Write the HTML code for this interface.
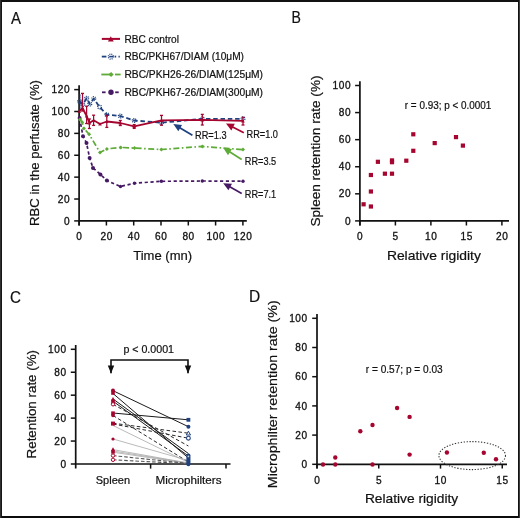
<!DOCTYPE html>
<html><head><meta charset="utf-8"><title>Figure</title>
<style>
html,body{margin:0;padding:0;background:#fff;}
body{width:520px;height:518px;overflow:hidden;}
svg{will-change:transform;display:block;font-family:"Liberation Sans", sans-serif;}
text{stroke:#111;stroke-width:0.2px;}
text.n{stroke-width:0.3px;}
</style></head><body>
<svg width="520" height="518" viewBox="0 0 520 518" fill="#111">
<rect x="0" y="0" width="520" height="518" fill="#fff"/>
<text x="11" y="23.6" font-size="16.6" textLength="10" lengthAdjust="spacingAndGlyphs">A</text>
<line x1="79.1" y1="85.2" x2="79.1" y2="225.5" stroke="#111" stroke-width="1.7" stroke-linecap="butt"/>
<line x1="78.25" y1="220.9" x2="246.8" y2="220.9" stroke="#111" stroke-width="1.7" stroke-linecap="butt"/>
<line x1="74.2" y1="220.9" x2="79.1" y2="220.9" stroke="#111" stroke-width="1.5" stroke-linecap="butt"/>
<text x="69.6" y="224.5" font-size="10.1" text-anchor="end" class="n">0</text>
<line x1="74.2" y1="199.02" x2="79.1" y2="199.02" stroke="#111" stroke-width="1.5" stroke-linecap="butt"/>
<text x="69.6" y="202.62" font-size="10.1" text-anchor="end" textLength="11.83" lengthAdjust="spacing" class="n">20</text>
<line x1="74.2" y1="177.14" x2="79.1" y2="177.14" stroke="#111" stroke-width="1.5" stroke-linecap="butt"/>
<text x="69.6" y="180.74" font-size="10.1" text-anchor="end" textLength="11.83" lengthAdjust="spacing" class="n">40</text>
<line x1="74.2" y1="155.26" x2="79.1" y2="155.26" stroke="#111" stroke-width="1.5" stroke-linecap="butt"/>
<text x="69.6" y="158.86" font-size="10.1" text-anchor="end" textLength="11.83" lengthAdjust="spacing" class="n">60</text>
<line x1="74.2" y1="133.38" x2="79.1" y2="133.38" stroke="#111" stroke-width="1.5" stroke-linecap="butt"/>
<text x="69.6" y="136.98" font-size="10.1" text-anchor="end" textLength="11.83" lengthAdjust="spacing" class="n">80</text>
<line x1="74.2" y1="111.5" x2="79.1" y2="111.5" stroke="#111" stroke-width="1.5" stroke-linecap="butt"/>
<text x="69.6" y="115.1" font-size="10.1" text-anchor="end" textLength="18.05" lengthAdjust="spacing" class="n">100</text>
<line x1="74.2" y1="89.62" x2="79.1" y2="89.62" stroke="#111" stroke-width="1.5" stroke-linecap="butt"/>
<text x="69.6" y="93.22" font-size="10.1" text-anchor="end" textLength="18.05" lengthAdjust="spacing" class="n">120</text>
<line x1="79.1" y1="220.9" x2="79.1" y2="225.5" stroke="#111" stroke-width="1.5" stroke-linecap="butt"/>
<text x="79.1" y="240.2" font-size="10.1" text-anchor="middle" class="n">0</text>
<line x1="106.4" y1="220.9" x2="106.4" y2="225.5" stroke="#111" stroke-width="1.5" stroke-linecap="butt"/>
<text x="106.4" y="240.2" font-size="10.1" text-anchor="middle" textLength="11.83" lengthAdjust="spacing" class="n">20</text>
<line x1="133.7" y1="220.9" x2="133.7" y2="225.5" stroke="#111" stroke-width="1.5" stroke-linecap="butt"/>
<text x="133.7" y="240.2" font-size="10.1" text-anchor="middle" textLength="11.83" lengthAdjust="spacing" class="n">40</text>
<line x1="161" y1="220.9" x2="161" y2="225.5" stroke="#111" stroke-width="1.5" stroke-linecap="butt"/>
<text x="161" y="240.2" font-size="10.1" text-anchor="middle" textLength="11.83" lengthAdjust="spacing" class="n">60</text>
<line x1="188.3" y1="220.9" x2="188.3" y2="225.5" stroke="#111" stroke-width="1.5" stroke-linecap="butt"/>
<text x="188.3" y="240.2" font-size="10.1" text-anchor="middle" textLength="11.83" lengthAdjust="spacing" class="n">80</text>
<line x1="215.6" y1="220.9" x2="215.6" y2="225.5" stroke="#111" stroke-width="1.5" stroke-linecap="butt"/>
<text x="215.6" y="240.2" font-size="10.1" text-anchor="middle" textLength="18.05" lengthAdjust="spacing" class="n">100</text>
<line x1="242.9" y1="220.9" x2="242.9" y2="225.5" stroke="#111" stroke-width="1.5" stroke-linecap="butt"/>
<text x="242.9" y="240.2" font-size="10.1" text-anchor="middle" textLength="18.05" lengthAdjust="spacing" class="n">120</text>
<text x="162.7" y="260" font-size="13" text-anchor="middle" textLength="59" lengthAdjust="spacingAndGlyphs">Time (mn)</text>
<text x="39.2" y="153" font-size="13" text-anchor="middle" textLength="146" lengthAdjust="spacingAndGlyphs" transform="rotate(-90 39.2 153)">RBC in the perfusate (%)</text>
<text x="124.4" y="42.7" font-size="10.1" textLength="54.6" lengthAdjust="spacingAndGlyphs">RBC control</text>
<text x="124.4" y="60.4" font-size="10.1" textLength="119.6" lengthAdjust="spacingAndGlyphs">RBC/PKH67/DIAM (10&#956;M)</text>
<text x="124.4" y="78.3" font-size="10.1" textLength="138.6" lengthAdjust="spacingAndGlyphs">RBC/PKH26-26/DIAM(125&#956;M)</text>
<text x="124.4" y="96.1" font-size="10.1" textLength="138.6" lengthAdjust="spacingAndGlyphs">RBC/PKH67-26/DIAM(300&#956;M)</text>
<line x1="101.8" y1="38.9" x2="120" y2="38.9" stroke="#a5052f" stroke-width="2" stroke-linecap="butt"/>
<path d="M110.8 36.27L113.7 41.49L107.9 41.49Z" fill="#a5052f"/>
<line x1="101.8" y1="56.6" x2="106.4" y2="56.6" stroke="#1f417f" stroke-width="1.8" stroke-linecap="butt"/>
<line x1="114.6" y1="56.6" x2="116.2" y2="56.6" stroke="#1f417f" stroke-width="1.8" stroke-linecap="butt"/>
<line x1="118.5" y1="56.6" x2="119.8" y2="56.6" stroke="#1f417f" stroke-width="1.8" stroke-linecap="butt"/>
<circle cx="110.8" cy="56.6" r="2.5" fill="none" stroke="#1f417f" stroke-width="1.3" stroke-dasharray="1.0 1.0"/>
<line x1="109.2" y1="56.6" x2="113" y2="56.6" stroke="#1f417f" stroke-width="1.6" stroke-linecap="butt"/>
<line x1="101.3" y1="74.5" x2="112" y2="74.5" stroke="#5eab37" stroke-width="1.8" stroke-linecap="butt"/>
<line x1="115" y1="74.5" x2="120.6" y2="74.5" stroke="#5eab37" stroke-width="1.8" stroke-linecap="butt"/>
<path d="M111.1 71.9L113.7 74.5L111.1 77.1L108.5 74.5Z" fill="#5eab37"/>
<line x1="102" y1="92.3" x2="105.6" y2="92.3" stroke="#451963" stroke-width="1.8" stroke-linecap="butt"/>
<line x1="115.2" y1="92.3" x2="118.7" y2="92.3" stroke="#451963" stroke-width="1.8" stroke-linecap="butt"/>
<circle cx="111" cy="92.3" r="2.7" fill="#451963"/>
<polyline points="79.6,118 83,136.2 86.5,142.9 89.6,157.9 93,167.9 100.4,174.4 106.9,180.6 120.5,186.5 134.5,183.2 161.3,181.3 202.3,181 243,181.2" fill="none" stroke="#451963" stroke-width="1.7" stroke-dasharray="3.2 2.6" stroke-linejoin="round"/>
<circle cx="79.6" cy="118" r="2" fill="#451963"/>
<circle cx="83" cy="136.2" r="2" fill="#451963"/>
<circle cx="86.5" cy="142.9" r="2" fill="#451963"/>
<circle cx="89.6" cy="157.9" r="2" fill="#451963"/>
<circle cx="93" cy="167.9" r="2" fill="#451963"/>
<circle cx="100.4" cy="174.4" r="2" fill="#451963"/>
<circle cx="106.9" cy="180.6" r="2" fill="#451963"/>
<circle cx="120.5" cy="186.5" r="1.7" fill="#451963"/>
<circle cx="134.5" cy="183.2" r="1.7" fill="#451963"/>
<circle cx="161.3" cy="181.3" r="1.7" fill="#451963"/>
<circle cx="202.3" cy="181" r="1.7" fill="#451963"/>
<circle cx="243" cy="181.2" r="1.7" fill="#451963"/>
<polyline points="80,119.5 82.2,122.3 83.9,128.5 89.1,134.2 100,152.5 106.9,148.9 120.8,147.4 134.5,148.1 161.3,149.5 202.4,146.4 243,149.6" fill="none" stroke="#5eab37" stroke-width="1.7" stroke-dasharray="6 2.5 1.6 2.5" stroke-linejoin="round"/>
<path d="M80 117.5L82 119.5L80 121.5L78 119.5Z" fill="#5eab37"/>
<path d="M82.2 120.3L84.2 122.3L82.2 124.3L80.2 122.3Z" fill="#5eab37"/>
<path d="M83.9 126.5L85.9 128.5L83.9 130.5L81.9 128.5Z" fill="#5eab37"/>
<path d="M89.1 132.2L91.1 134.2L89.1 136.2L87.1 134.2Z" fill="#5eab37"/>
<path d="M100 150.5L102 152.5L100 154.5L98 152.5Z" fill="#5eab37"/>
<path d="M106.9 146.9L108.9 148.9L106.9 150.9L104.9 148.9Z" fill="#5eab37"/>
<path d="M120.8 145.4L122.8 147.4L120.8 149.4L118.8 147.4Z" fill="#5eab37"/>
<path d="M134.5 146.1L136.5 148.1L134.5 150.1L132.5 148.1Z" fill="#5eab37"/>
<path d="M161.3 147.5L163.3 149.5L161.3 151.5L159.3 149.5Z" fill="#5eab37"/>
<path d="M202.4 144.4L204.4 146.4L202.4 148.4L200.4 146.4Z" fill="#5eab37"/>
<path d="M243 147.6L245 149.6L243 151.6L241 149.6Z" fill="#5eab37"/>
<polyline points="79.6,101.5 82.8,104.5 86.7,98.2 89.8,104 93.8,98.6 99.6,107 106.8,114.7 120.3,116 134.2,120.5 161.5,122.7 202.3,118.8 243,118.8" fill="none" stroke="#1f417f" stroke-width="1.8" stroke-dasharray="4.5 2.8" stroke-linejoin="round"/>
<circle cx="79.6" cy="101.5" r="1.9" fill="none" stroke="#1f417f" stroke-width="1.3" stroke-dasharray="1 0.8"/>
<circle cx="82.8" cy="104.5" r="1.9" fill="none" stroke="#1f417f" stroke-width="1.3" stroke-dasharray="1 0.8"/>
<circle cx="86.7" cy="98.2" r="1.9" fill="none" stroke="#1f417f" stroke-width="1.3" stroke-dasharray="1 0.8"/>
<circle cx="89.8" cy="104" r="1.9" fill="none" stroke="#1f417f" stroke-width="1.3" stroke-dasharray="1 0.8"/>
<circle cx="93.8" cy="98.6" r="1.9" fill="none" stroke="#1f417f" stroke-width="1.3" stroke-dasharray="1 0.8"/>
<circle cx="99.6" cy="107" r="1.9" fill="none" stroke="#1f417f" stroke-width="1.3" stroke-dasharray="1 0.8"/>
<circle cx="106.8" cy="114.7" r="1.9" fill="none" stroke="#1f417f" stroke-width="1.3" stroke-dasharray="1 0.8"/>
<circle cx="120.3" cy="116" r="1.9" fill="none" stroke="#1f417f" stroke-width="1.3" stroke-dasharray="1 0.8"/>
<circle cx="134.2" cy="120.5" r="1.9" fill="none" stroke="#1f417f" stroke-width="1.3" stroke-dasharray="1 0.8"/>
<circle cx="161.5" cy="122.7" r="1.9" fill="none" stroke="#1f417f" stroke-width="1.3" stroke-dasharray="1 0.8"/>
<circle cx="202.3" cy="118.8" r="1.9" fill="none" stroke="#1f417f" stroke-width="1.3" stroke-dasharray="1 0.8"/>
<circle cx="243" cy="118.8" r="1.9" fill="none" stroke="#1f417f" stroke-width="1.3" stroke-dasharray="1 0.8"/>
<line x1="80" y1="94.5" x2="80" y2="109.8" stroke="#1f417f" stroke-width="1.3" stroke-dasharray="1.2 0.8" stroke-linecap="butt"/>
<polyline points="79.4,111.2 82.5,108 86.6,116 89.4,123 93.6,120.3 100,124 106.8,121.5 120.3,123 134.2,126.4 161.5,120.3 202.3,119.8 243,120.8" fill="none" stroke="#a5052f" stroke-width="1.8" stroke-linejoin="round"/>
<line x1="82.5" y1="93.4" x2="82.5" y2="111" stroke="#a5052f" stroke-width="1.25" stroke-linecap="butt"/>
<line x1="81" y1="93.4" x2="84" y2="93.4" stroke="#a5052f" stroke-width="1.3" stroke-linecap="butt"/>
<line x1="81" y1="111" x2="84" y2="111" stroke="#a5052f" stroke-width="1.3" stroke-linecap="butt"/>
<line x1="86.6" y1="106.2" x2="86.6" y2="123.5" stroke="#a5052f" stroke-width="1.25" stroke-linecap="butt"/>
<line x1="85.1" y1="106.2" x2="88.1" y2="106.2" stroke="#a5052f" stroke-width="1.3" stroke-linecap="butt"/>
<line x1="85.1" y1="123.5" x2="88.1" y2="123.5" stroke="#a5052f" stroke-width="1.3" stroke-linecap="butt"/>
<line x1="89.4" y1="119" x2="89.4" y2="128.5" stroke="#a5052f" stroke-width="1.25" stroke-linecap="butt"/>
<line x1="87.9" y1="119" x2="90.9" y2="119" stroke="#a5052f" stroke-width="1.3" stroke-linecap="butt"/>
<line x1="87.9" y1="128.5" x2="90.9" y2="128.5" stroke="#a5052f" stroke-width="1.3" stroke-linecap="butt"/>
<line x1="93.6" y1="115.2" x2="93.6" y2="125.4" stroke="#a5052f" stroke-width="1.25" stroke-linecap="butt"/>
<line x1="92.1" y1="115.2" x2="95.1" y2="115.2" stroke="#a5052f" stroke-width="1.3" stroke-linecap="butt"/>
<line x1="92.1" y1="125.4" x2="95.1" y2="125.4" stroke="#a5052f" stroke-width="1.3" stroke-linecap="butt"/>
<line x1="106.8" y1="115.4" x2="106.8" y2="127.4" stroke="#a5052f" stroke-width="1.25" stroke-linecap="butt"/>
<line x1="105.3" y1="115.4" x2="108.3" y2="115.4" stroke="#a5052f" stroke-width="1.3" stroke-linecap="butt"/>
<line x1="105.3" y1="127.4" x2="108.3" y2="127.4" stroke="#a5052f" stroke-width="1.3" stroke-linecap="butt"/>
<line x1="120.3" y1="120.5" x2="120.3" y2="125.5" stroke="#a5052f" stroke-width="1.25" stroke-linecap="butt"/>
<line x1="118.8" y1="120.5" x2="121.8" y2="120.5" stroke="#a5052f" stroke-width="1.3" stroke-linecap="butt"/>
<line x1="118.8" y1="125.5" x2="121.8" y2="125.5" stroke="#a5052f" stroke-width="1.3" stroke-linecap="butt"/>
<line x1="134.2" y1="124.6" x2="134.2" y2="128.4" stroke="#a5052f" stroke-width="1.25" stroke-linecap="butt"/>
<line x1="132.7" y1="124.6" x2="135.7" y2="124.6" stroke="#a5052f" stroke-width="1.3" stroke-linecap="butt"/>
<line x1="132.7" y1="128.4" x2="135.7" y2="128.4" stroke="#a5052f" stroke-width="1.3" stroke-linecap="butt"/>
<line x1="161.5" y1="115.4" x2="161.5" y2="125.2" stroke="#a5052f" stroke-width="1.25" stroke-linecap="butt"/>
<line x1="160" y1="115.4" x2="163" y2="115.4" stroke="#a5052f" stroke-width="1.3" stroke-linecap="butt"/>
<line x1="160" y1="125.2" x2="163" y2="125.2" stroke="#a5052f" stroke-width="1.3" stroke-linecap="butt"/>
<line x1="202.3" y1="114.4" x2="202.3" y2="125" stroke="#a5052f" stroke-width="1.25" stroke-linecap="butt"/>
<line x1="200.8" y1="114.4" x2="203.8" y2="114.4" stroke="#a5052f" stroke-width="1.3" stroke-linecap="butt"/>
<line x1="200.8" y1="125" x2="203.8" y2="125" stroke="#a5052f" stroke-width="1.3" stroke-linecap="butt"/>
<line x1="243" y1="117.3" x2="243" y2="125" stroke="#a5052f" stroke-width="1.25" stroke-linecap="butt"/>
<line x1="241.5" y1="117.3" x2="244.5" y2="117.3" stroke="#a5052f" stroke-width="1.3" stroke-linecap="butt"/>
<line x1="241.5" y1="125" x2="244.5" y2="125" stroke="#a5052f" stroke-width="1.3" stroke-linecap="butt"/>
<path d="M79.4 109.56L81.2 112.8L77.6 112.8Z" fill="#a5052f"/>
<path d="M82.5 106.36L84.3 109.6L80.7 109.6Z" fill="#a5052f"/>
<path d="M86.6 114.36L88.4 117.6L84.8 117.6Z" fill="#a5052f"/>
<path d="M89.4 121.36L91.2 124.6L87.6 124.6Z" fill="#a5052f"/>
<path d="M93.6 118.66L95.4 121.9L91.8 121.9Z" fill="#a5052f"/>
<path d="M100 122.36L101.8 125.6L98.2 125.6Z" fill="#a5052f"/>
<path d="M106.8 119.86L108.6 123.1L105 123.1Z" fill="#a5052f"/>
<path d="M120.3 121.36L122.1 124.6L118.5 124.6Z" fill="#a5052f"/>
<path d="M134.2 124.76L136 128L132.4 128Z" fill="#a5052f"/>
<path d="M161.5 118.66L163.3 121.9L159.7 121.9Z" fill="#a5052f"/>
<path d="M202.3 118.16L204.1 121.4L200.5 121.4Z" fill="#a5052f"/>
<path d="M243 119.16L244.8 122.4L241.2 122.4Z" fill="#a5052f"/>
<line x1="192.4" y1="135.3" x2="179.32" y2="127.56" stroke="#1f417f" stroke-width="1.7" stroke-linecap="butt"/>
<path d="M173.3 124L182.07 124.89L178.3 131.26Z" fill="#1f417f"/>
<line x1="243.8" y1="132.8" x2="232.19" y2="126.67" stroke="#a5052f" stroke-width="1.7" stroke-linecap="butt"/>
<path d="M226 123.4L234.8 123.86L231.35 130.41Z" fill="#a5052f"/>
<line x1="241.7" y1="159.5" x2="229.12" y2="151.54" stroke="#5eab37" stroke-width="1.7" stroke-linecap="butt"/>
<path d="M223.2 147.8L231.94 148.95L227.98 155.2Z" fill="#5eab37"/>
<line x1="241.7" y1="193.4" x2="229.33" y2="186.58" stroke="#451963" stroke-width="1.7" stroke-linecap="butt"/>
<path d="M223.2 183.2L231.99 183.82L228.42 190.3Z" fill="#451963"/>
<text x="195" y="139.2" font-size="10.6" textLength="31.6" lengthAdjust="spacingAndGlyphs">RR=1.3</text>
<text x="246.5" y="138.1" font-size="10.6" textLength="31.4" lengthAdjust="spacingAndGlyphs">RR=1.0</text>
<text x="244.8" y="165.3" font-size="10.6" textLength="31.4" lengthAdjust="spacingAndGlyphs">RR=3.5</text>
<text x="244.8" y="197.5" font-size="10.6" textLength="31.4" lengthAdjust="spacingAndGlyphs">RR=7.1</text>
<text x="291.6" y="23.3" font-size="16.6" textLength="9.4" lengthAdjust="spacingAndGlyphs">B</text>
<line x1="359.9" y1="81.2" x2="359.9" y2="225.5" stroke="#111" stroke-width="1.7" stroke-linecap="butt"/>
<line x1="359.05" y1="220.9" x2="509" y2="220.9" stroke="#111" stroke-width="1.7" stroke-linecap="butt"/>
<line x1="355.1" y1="220.9" x2="359.9" y2="220.9" stroke="#111" stroke-width="1.5" stroke-linecap="butt"/>
<text x="350.6" y="224.5" font-size="10.1" text-anchor="end" class="n">0</text>
<line x1="355.1" y1="193.82" x2="359.9" y2="193.82" stroke="#111" stroke-width="1.5" stroke-linecap="butt"/>
<text x="350.6" y="197.42" font-size="10.1" text-anchor="end" textLength="11.83" lengthAdjust="spacing" class="n">20</text>
<line x1="355.1" y1="166.74" x2="359.9" y2="166.74" stroke="#111" stroke-width="1.5" stroke-linecap="butt"/>
<text x="350.6" y="170.34" font-size="10.1" text-anchor="end" textLength="11.83" lengthAdjust="spacing" class="n">40</text>
<line x1="355.1" y1="139.66" x2="359.9" y2="139.66" stroke="#111" stroke-width="1.5" stroke-linecap="butt"/>
<text x="350.6" y="143.26" font-size="10.1" text-anchor="end" textLength="11.83" lengthAdjust="spacing" class="n">60</text>
<line x1="355.1" y1="112.58" x2="359.9" y2="112.58" stroke="#111" stroke-width="1.5" stroke-linecap="butt"/>
<text x="350.6" y="116.18" font-size="10.1" text-anchor="end" textLength="11.83" lengthAdjust="spacing" class="n">80</text>
<line x1="355.1" y1="85.5" x2="359.9" y2="85.5" stroke="#111" stroke-width="1.5" stroke-linecap="butt"/>
<text x="350.6" y="89.1" font-size="10.1" text-anchor="end" textLength="18.05" lengthAdjust="spacing" class="n">100</text>
<line x1="359.9" y1="220.9" x2="359.9" y2="225.5" stroke="#111" stroke-width="1.5" stroke-linecap="butt"/>
<text x="359.9" y="240.4" font-size="10.1" text-anchor="middle" class="n">0</text>
<line x1="395.4" y1="220.9" x2="395.4" y2="225.5" stroke="#111" stroke-width="1.5" stroke-linecap="butt"/>
<text x="395.4" y="240.4" font-size="10.1" text-anchor="middle" class="n">5</text>
<line x1="430.9" y1="220.9" x2="430.9" y2="225.5" stroke="#111" stroke-width="1.5" stroke-linecap="butt"/>
<text x="430.9" y="240.4" font-size="10.1" text-anchor="middle" textLength="11.83" lengthAdjust="spacing" class="n">10</text>
<line x1="466.4" y1="220.9" x2="466.4" y2="225.5" stroke="#111" stroke-width="1.5" stroke-linecap="butt"/>
<text x="466.4" y="240.4" font-size="10.1" text-anchor="middle" textLength="11.83" lengthAdjust="spacing" class="n">15</text>
<line x1="501.9" y1="220.9" x2="501.9" y2="225.5" stroke="#111" stroke-width="1.5" stroke-linecap="butt"/>
<text x="501.9" y="240.4" font-size="10.1" text-anchor="middle" textLength="11.83" lengthAdjust="spacing" class="n">20</text>
<text x="433.9" y="260.3" font-size="13" text-anchor="middle" textLength="94" lengthAdjust="spacingAndGlyphs">Relative rigidity</text>
<text x="320" y="151" font-size="13" text-anchor="middle" textLength="151" lengthAdjust="spacingAndGlyphs" transform="rotate(-90 320 151)">Spleen retention rate (%)</text>
<text x="404.8" y="109.2" font-size="10.1" textLength="86.5" lengthAdjust="spacingAndGlyphs">r = 0.93; p &lt; 0.0001</text>
<rect x="361.5" y="202.2" width="4.2" height="4.2" fill="#a5052f"/>
<rect x="368.8" y="204.4" width="4.2" height="4.2" fill="#a5052f"/>
<rect x="368.8" y="189.4" width="4.2" height="4.2" fill="#a5052f"/>
<rect x="368.8" y="172.9" width="4.2" height="4.2" fill="#a5052f"/>
<rect x="375.8" y="159.7" width="4.2" height="4.2" fill="#a5052f"/>
<rect x="382.8" y="171.6" width="4.2" height="4.2" fill="#a5052f"/>
<rect x="389.9" y="171.6" width="4.2" height="4.2" fill="#a5052f"/>
<rect x="389.9" y="158.3" width="4.2" height="4.2" fill="#a5052f"/>
<rect x="389.9" y="160.1" width="4.2" height="4.2" fill="#a5052f"/>
<rect x="404.2" y="158.6" width="4.2" height="4.2" fill="#a5052f"/>
<rect x="411.2" y="148.7" width="4.2" height="4.2" fill="#a5052f"/>
<rect x="411.2" y="132.2" width="4.2" height="4.2" fill="#a5052f"/>
<rect x="432.6" y="141" width="4.2" height="4.2" fill="#a5052f"/>
<rect x="453.9" y="135" width="4.2" height="4.2" fill="#a5052f"/>
<rect x="460.8" y="143.5" width="4.2" height="4.2" fill="#a5052f"/>
<text x="10" y="302.5" font-size="16.6" textLength="11" lengthAdjust="spacingAndGlyphs">C</text>
<line x1="75.7" y1="345" x2="75.7" y2="468.5" stroke="#111" stroke-width="1.7" stroke-linecap="butt"/>
<line x1="74.85" y1="464" x2="230.5" y2="464" stroke="#111" stroke-width="1.7" stroke-linecap="butt"/>
<line x1="70.8" y1="464" x2="75.7" y2="464" stroke="#111" stroke-width="1.5" stroke-linecap="butt"/>
<text x="66" y="467.6" font-size="10.1" text-anchor="end" class="n">0</text>
<line x1="70.8" y1="441.06" x2="75.7" y2="441.06" stroke="#111" stroke-width="1.5" stroke-linecap="butt"/>
<text x="66" y="444.66" font-size="10.1" text-anchor="end" textLength="11.83" lengthAdjust="spacing" class="n">20</text>
<line x1="70.8" y1="418.12" x2="75.7" y2="418.12" stroke="#111" stroke-width="1.5" stroke-linecap="butt"/>
<text x="66" y="421.72" font-size="10.1" text-anchor="end" textLength="11.83" lengthAdjust="spacing" class="n">40</text>
<line x1="70.8" y1="395.18" x2="75.7" y2="395.18" stroke="#111" stroke-width="1.5" stroke-linecap="butt"/>
<text x="66" y="398.78" font-size="10.1" text-anchor="end" textLength="11.83" lengthAdjust="spacing" class="n">60</text>
<line x1="70.8" y1="372.24" x2="75.7" y2="372.24" stroke="#111" stroke-width="1.5" stroke-linecap="butt"/>
<text x="66" y="375.84" font-size="10.1" text-anchor="end" textLength="11.83" lengthAdjust="spacing" class="n">80</text>
<line x1="70.8" y1="349.3" x2="75.7" y2="349.3" stroke="#111" stroke-width="1.5" stroke-linecap="butt"/>
<text x="66" y="352.9" font-size="10.1" text-anchor="end" textLength="18.05" lengthAdjust="spacing" class="n">100</text>
<line x1="150.6" y1="464" x2="150.6" y2="468.6" stroke="#111" stroke-width="1.5" stroke-linecap="butt"/>
<line x1="226" y1="464" x2="226" y2="468.6" stroke="#111" stroke-width="1.5" stroke-linecap="butt"/>
<text x="112.9" y="483.5" font-size="11" text-anchor="middle" textLength="34.3" lengthAdjust="spacingAndGlyphs">Spleen</text>
<text x="188.5" y="483.8" font-size="11" text-anchor="middle" textLength="66.1" lengthAdjust="spacingAndGlyphs">Microphilters</text>
<text x="35.8" y="404.2" font-size="13" text-anchor="middle" textLength="108.5" lengthAdjust="spacingAndGlyphs" transform="rotate(-90 35.8 404.2)">Retention rate (%)</text>
<path d="M111 373.3V360H188V373.3" fill="none" stroke="#111" stroke-width="1.6"/>
<path d="M107.8 365.6L114.2 365.6L111 373.6Z" fill="#111"/>
<path d="M184.8 365.6L191.2 365.6L188 373.6Z" fill="#111"/>
<text x="123.4" y="353.3" font-size="10.6" textLength="50.6" lengthAdjust="spacingAndGlyphs">p &lt; 0.0001</text>
<line x1="113" y1="390.7" x2="188.4" y2="426.7" stroke="#1a1a1a" stroke-width="1" stroke-linecap="butt"/>
<line x1="113" y1="393.5" x2="188.4" y2="458" stroke="#1a1a1a" stroke-width="1" stroke-linecap="butt"/>
<line x1="113" y1="399" x2="188.4" y2="453.5" stroke="#1a1a1a" stroke-width="1" stroke-linecap="butt"/>
<line x1="113" y1="401.2" x2="188.4" y2="456" stroke="#1a1a1a" stroke-width="1" stroke-linecap="butt"/>
<line x1="113" y1="404.3" x2="188.4" y2="446" stroke="#2a2a2a" stroke-width="1" stroke-dasharray="3.6 2.4" stroke-linecap="butt"/>
<line x1="113" y1="413" x2="188.4" y2="419.8" stroke="#1a1a1a" stroke-width="1" stroke-linecap="butt"/>
<line x1="113" y1="415.5" x2="188.4" y2="462" stroke="#2a2a2a" stroke-width="1" stroke-dasharray="3.6 2.4" stroke-linecap="butt"/>
<line x1="113" y1="423.2" x2="188.4" y2="433.2" stroke="#2a2a2a" stroke-width="1" stroke-dasharray="3.6 2.4" stroke-linecap="butt"/>
<line x1="113" y1="424" x2="188.4" y2="438.2" stroke="#2a2a2a" stroke-width="1" stroke-dasharray="3.6 2.4" stroke-linecap="butt"/>
<line x1="113" y1="425.5" x2="188.4" y2="462.5" stroke="#a8a8a8" stroke-width="0.8" stroke-linecap="butt"/>
<line x1="113" y1="439" x2="188.4" y2="460.5" stroke="#a8a8a8" stroke-width="0.8" stroke-linecap="butt"/>
<line x1="113" y1="449.6" x2="188.4" y2="463" stroke="#a8a8a8" stroke-width="0.8" stroke-linecap="butt"/>
<line x1="113" y1="451" x2="188.4" y2="463.2" stroke="#a8a8a8" stroke-width="0.8" stroke-linecap="butt"/>
<line x1="113" y1="452.2" x2="188.4" y2="463.5" stroke="#a8a8a8" stroke-width="0.8" stroke-linecap="butt"/>
<line x1="113" y1="455.6" x2="188.4" y2="463.5" stroke="#555" stroke-width="1.1" stroke-dasharray="3.6 2" stroke-linecap="butt"/>
<line x1="113" y1="459.8" x2="188.4" y2="463.8" stroke="#555" stroke-width="1.1" stroke-dasharray="3.6 2" stroke-linecap="butt"/>
<circle cx="113" cy="390.6" r="2" fill="#a5052f"/>
<rect x="111.2" y="391.2" width="3.6" height="3.6" fill="#a5052f"/>
<path d="M113 397.04L115 400.64L111 400.64Z" fill="#a5052f"/>
<rect x="111.2" y="399.5" width="3.6" height="3.6" fill="#a5052f"/>
<circle cx="113" cy="404.3" r="1.7" fill="white" stroke="#a5052f" stroke-width="1"/>
<rect x="111.2" y="411.4" width="3.6" height="3.6" fill="#a5052f"/>
<circle cx="113" cy="415.4" r="1.8" fill="#a5052f"/>
<rect x="111" y="421.6" width="4" height="4" fill="#a5052f"/>
<circle cx="113" cy="439" r="1.6" fill="#a5052f"/>
<path d="M113 447.24L115 450.84L111 450.84Z" fill="#a5052f"/>
<rect x="111.2" y="450.1" width="3.6" height="3.6" fill="#a5052f"/>
<circle cx="113" cy="455.6" r="1.7" fill="white" stroke="#a5052f" stroke-width="1"/>
<circle cx="113" cy="459.8" r="1.7" fill="white" stroke="#a5052f" stroke-width="1"/>
<rect x="186.5" y="417.9" width="3.8" height="3.8" fill="#1f417f"/>
<circle cx="188.4" cy="426.7" r="2" fill="#1f417f"/>
<path d="M188.4 431.2L190.5 435L186.3 435Z" fill="white" stroke="#1f417f" stroke-width="1"/>
<circle cx="188.4" cy="438.2" r="1.9" fill="white" stroke="#1f417f" stroke-width="1.1"/>
<rect x="186.35" y="453.6" width="4.1" height="12.6" rx="2" fill="#1f417f"/>
<circle cx="188.4" cy="456.4" r="0.9" fill="#c8d0e0"/>
<text x="248.9" y="302.2" font-size="16.6" textLength="11.2" lengthAdjust="spacingAndGlyphs">D</text>
<line x1="317" y1="313.9" x2="317" y2="468.5" stroke="#111" stroke-width="1.7" stroke-linecap="butt"/>
<line x1="316.15" y1="464.3" x2="507" y2="464.3" stroke="#111" stroke-width="1.7" stroke-linecap="butt"/>
<line x1="312.2" y1="464.3" x2="317" y2="464.3" stroke="#111" stroke-width="1.5" stroke-linecap="butt"/>
<text x="307.2" y="467.9" font-size="10.1" text-anchor="end" class="n">0</text>
<line x1="312.2" y1="435.1" x2="317" y2="435.1" stroke="#111" stroke-width="1.5" stroke-linecap="butt"/>
<text x="307.2" y="438.7" font-size="10.1" text-anchor="end" textLength="11.83" lengthAdjust="spacing" class="n">20</text>
<line x1="312.2" y1="405.9" x2="317" y2="405.9" stroke="#111" stroke-width="1.5" stroke-linecap="butt"/>
<text x="307.2" y="409.5" font-size="10.1" text-anchor="end" textLength="11.83" lengthAdjust="spacing" class="n">40</text>
<line x1="312.2" y1="376.7" x2="317" y2="376.7" stroke="#111" stroke-width="1.5" stroke-linecap="butt"/>
<text x="307.2" y="380.3" font-size="10.1" text-anchor="end" textLength="11.83" lengthAdjust="spacing" class="n">60</text>
<line x1="312.2" y1="347.5" x2="317" y2="347.5" stroke="#111" stroke-width="1.5" stroke-linecap="butt"/>
<text x="307.2" y="351.1" font-size="10.1" text-anchor="end" textLength="11.83" lengthAdjust="spacing" class="n">80</text>
<line x1="312.2" y1="318.3" x2="317" y2="318.3" stroke="#111" stroke-width="1.5" stroke-linecap="butt"/>
<text x="307.2" y="321.9" font-size="10.1" text-anchor="end" textLength="18.05" lengthAdjust="spacing" class="n">100</text>
<line x1="317" y1="464.3" x2="317" y2="468.6" stroke="#111" stroke-width="1.5" stroke-linecap="butt"/>
<text x="317" y="484" font-size="10.1" text-anchor="middle" class="n">0</text>
<line x1="378.75" y1="464.3" x2="378.75" y2="468.6" stroke="#111" stroke-width="1.5" stroke-linecap="butt"/>
<text x="378.75" y="484" font-size="10.1" text-anchor="middle" class="n">5</text>
<line x1="440.5" y1="464.3" x2="440.5" y2="468.6" stroke="#111" stroke-width="1.5" stroke-linecap="butt"/>
<text x="440.5" y="484" font-size="10.1" text-anchor="middle" textLength="11.83" lengthAdjust="spacing" class="n">10</text>
<line x1="502.25" y1="464.3" x2="502.25" y2="468.6" stroke="#111" stroke-width="1.5" stroke-linecap="butt"/>
<text x="502.25" y="484" font-size="10.1" text-anchor="middle" textLength="11.83" lengthAdjust="spacing" class="n">15</text>
<text x="411.6" y="503.2" font-size="13" text-anchor="middle" textLength="93.3" lengthAdjust="spacingAndGlyphs">Relative rigidity</text>
<text x="277.1" y="394.2" font-size="13" text-anchor="middle" textLength="188" lengthAdjust="spacingAndGlyphs" transform="rotate(-90 277.1 394.2)">Microphilter retention rate (%)</text>
<text x="365.8" y="373.4" font-size="10.1" textLength="76.9" lengthAdjust="spacingAndGlyphs">r = 0.57; p = 0.03</text>
<circle cx="323" cy="464.5" r="2.2" fill="#a5052f"/>
<circle cx="335.3" cy="464.5" r="2.2" fill="#a5052f"/>
<circle cx="335.3" cy="457.5" r="2.2" fill="#a5052f"/>
<circle cx="360.3" cy="431.3" r="2.2" fill="#a5052f"/>
<circle cx="372.5" cy="425" r="2.2" fill="#a5052f"/>
<circle cx="372.5" cy="464.5" r="2.2" fill="#a5052f"/>
<circle cx="397.1" cy="408" r="2.2" fill="#a5052f"/>
<circle cx="409.6" cy="416.9" r="2.2" fill="#a5052f"/>
<circle cx="409.6" cy="454.6" r="2.2" fill="#a5052f"/>
<circle cx="446.9" cy="452.5" r="2.2" fill="#a5052f"/>
<circle cx="483.8" cy="452.7" r="2.2" fill="#a5052f"/>
<circle cx="496" cy="459.2" r="2.2" fill="#a5052f"/>
<ellipse cx="472.2" cy="455.6" rx="33.3" ry="14.0" fill="none" stroke="#333" stroke-width="1.1" stroke-dasharray="1.3 1.6"/>
<rect x="0" y="0" width="520" height="2" fill="#111"/>
<rect x="0" y="516" width="520" height="2" fill="#0c0c0c"/>
<rect x="0" y="0" width="1" height="518" fill="#303030"/>
<rect x="1" y="0" width="1" height="518" fill="#151515"/>
<rect x="518" y="0" width="1" height="518" fill="#111"/>
<rect x="519" y="0" width="1" height="518" fill="#3c3c3c"/>
</svg>
</body></html>
